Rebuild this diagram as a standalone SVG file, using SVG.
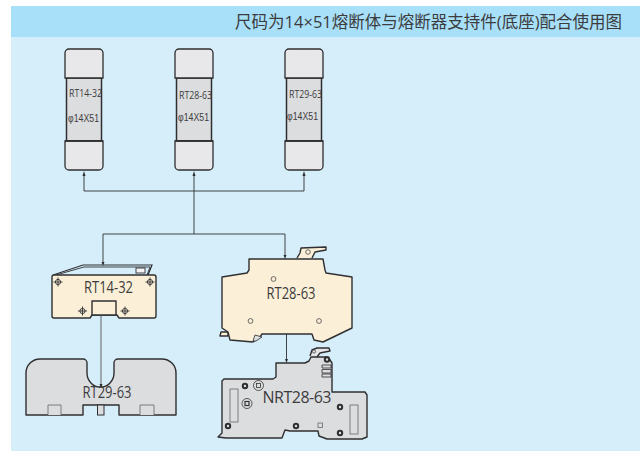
<svg xmlns="http://www.w3.org/2000/svg" width="642" height="451" viewBox="0 0 642 451">
<style>
.t{font-family:"Open Sans","Noto Sans CJK SC",sans-serif;fill:#3c3c3e}
.lb{font-size:16px;text-anchor:middle}
.sm{font-size:10px}
.ph{font-family:"Liberation Sans",sans-serif;font-size:10px;fill:#3c3c3e}
.cap{fill:#e8e8ea;stroke:#2f2f31;stroke-width:1.300}
.body{fill:#dcddde;stroke:#2f2f31;stroke-width:1.500}
.cream{fill:#fbf0d7;stroke:#2f2f31;stroke-width:1.400;stroke-linejoin:round}
.grey{fill:#dcddde;stroke:#2f2f31;stroke-width:1.400;stroke-linejoin:round}
.thin{fill:none;stroke:#2f2f31;stroke-width:.9}
.hole{fill:#fbf0d7;stroke:#4a4a4a;stroke-width:.8}
.dot{fill:#dcddde;stroke:#2f2f31;stroke-width:2}
.part{fill:#dcddde;stroke:#666;stroke-width:.8}
.wire{fill:none;stroke:#2f2f31;stroke-width:.9}
</style>
<defs>
<g id="cr"><circle r="2.600" fill="none" stroke="#2f2f31" stroke-width=".9"/><path d="M-4.500 0H4.500M0-4.500V4.500" stroke="#2f2f31" stroke-width=".9"/></g>
<g id="fuse">
<rect x="1.500" y="29" width="35" height="63" class="body"/>
<path d="M0 29V4a4 4 0 0 1 4-4H34a4 4 0 0 1 4 4V29Z" class="cap"/>
<path d="M0 92V117a4 4 0 0 0 4 4H34a4 4 0 0 0 4-4V92Z" class="cap"/>
<path d="M0 92H38" stroke="#2f2f31" stroke-width="1.600"/>
</g>
</defs>
<rect x="11" y="6" width="629" height="445" fill="#d6eefa"/>
<rect x="11" y="6" width="629" height="31" fill="#a9e0f9"/>
<text class="t" x="622" y="28" font-size="16.500" text-anchor="end">尺码为14×51熔断体与熔断器支持件(底座)配合使用图</text>
<g id="fuse-rt14-32">
<use href="#fuse" x="65" y="49"/>
<text class="t sm" x="69" y="97" textLength="33" lengthAdjust="spacingAndGlyphs">RT14-32</text>
<text class="ph" x="68" y="122" textLength="31" lengthAdjust="spacingAndGlyphs">φ14X51</text>
</g>
<g id="fuse-rt28-63">
<use href="#fuse" x="175" y="49"/>
<text class="t sm" x="179" y="99" textLength="33" lengthAdjust="spacingAndGlyphs">RT28-63</text>
<text class="ph" x="178" y="121" textLength="31" lengthAdjust="spacingAndGlyphs">φ14X51</text>
</g>
<g id="fuse-rt29-63">
<use href="#fuse" x="285" y="49"/>
<text class="t sm" x="289" y="98" textLength="33" lengthAdjust="spacingAndGlyphs">RT29-63</text>
<text class="ph" x="287" y="120" textLength="31" lengthAdjust="spacingAndGlyphs">φ14X51</text>
</g>
<g id="base-rt14-32">
<path d="M53 275L83 265H152L148 275" class="thin" style="stroke-width:1.200"/>
<path d="M56 275L84 267H150L147 275" class="thin"/>
<rect x="136" y="268" width="9" height="5" class="thin" style="fill:#f4f4f4"/>
<path d="M54 275H154a2 2 0 0 1 2 2V316a2 2 0 0 1-2 2H119L117 315H92L90 318H54a2 2 0 0 1-2-2V277a2 2 0 0 1 2-2Z" class="cream"/>
<rect x="92" y="301" width="24" height="14" class="cream"/>
<use href="#cr" x="58" y="282"/>
<use href="#cr" x="150" y="282"/>
<use href="#cr" x="82.500" y="311"/>
<use href="#cr" x="125" y="311"/>
<text class="t lb" x="108.500" y="293" textLength="49" lengthAdjust="spacingAndGlyphs">RT14-32</text>
</g>
<g id="base-rt29-63">
<path d="M26 415V373a14 14 0 0 1 14-14H83a4 4 0 0 1 4 4V373a13.500 14 0 0 0 27 0V363a4 4 0 0 1 4-4H162a14 14 0 0 1 14 14V415H119V405H83V415Z" class="grey"/>
<path d="M48 415V405H61V415M140 415V405H154V415" class="part"/>
<rect x="97.500" y="405" width="6.500" height="10" class="part" style="stroke:#2f2f31;stroke-width:1"/>
<text class="t lb" x="107" y="398" textLength="49" lengthAdjust="spacingAndGlyphs">RT29-63</text>
</g>
<g id="base-rt28-63">
<path d="M297 258L300 253 301 248 326 247V250L315 252 312 258" class="cream"/>
<circle cx="308" cy="252" r="2.300" class="hole"/>
<path d="M221 332H228V336H220Z" class="cream"/>
<path d="M249 259H323L325 270 326 273 352 277V328L323 342 314 340 312 334H262L260 337 256 340 253 342 230 340 228 332 222 328V277L247 273 249 270Z" class="cream"/>
<path d="M255 335L262 337 256 341 253 341Z" fill="#dcddde" stroke="#2f2f31" stroke-width=".8"/>
<circle cx="273.500" cy="279" r="2.400" class="hole"/>
<circle cx="250.500" cy="321" r="2.400" class="hole"/>
<circle cx="319" cy="321" r="2.400" class="hole"/>
<text class="t lb" x="291" y="299" textLength="49" lengthAdjust="spacingAndGlyphs">RT28-63</text>
</g>
<g id="base-nrt28-63">
<path d="M310 356L312 350 317 348H329L330 351 320 353 317 357" class="grey" style="fill:#e6e6e8"/>
<circle cx="314" cy="351.500" r="1.600" class="hole" style="fill:#dcddde"/>
<path d="M276 363H305L309 361 311 357H328L332 363V392H365L367 395V437L362 439H327L319 436 318 431H290L285 430 282 438H226L218 437 222 433V381L224 379H273L276 377Z" class="grey"/>
<path d="M322 365H331V368H322ZM322 369.500H331V373H322ZM322 374H331V377H322Z" class="part" style="stroke:#2f2f31"/>
<rect x="230" y="389" width="8" height="33" class="part"/>
<rect x="350" y="405" width="8" height="29" class="part"/>
<circle cx="245" cy="386" r="2.200" class="dot"/>
<circle cx="228" cy="426" r="2.200" class="dot"/>
<circle cx="296" cy="426" r="2.200" class="dot"/>
<circle cx="340" cy="407" r="2.200" class="dot"/>
<circle cx="340" cy="433" r="2.200" class="dot"/>
<circle cx="327" cy="359.500" r="2.200" class="dot"/>
<circle cx="258.500" cy="385.500" r="5" class="part" style="stroke:#333"/>
<rect x="256.500" y="383.500" width="4" height="4" class="part" style="stroke:#333"/>
<circle cx="247" cy="403.500" r="5" class="part" style="stroke:#333"/>
<rect x="245" y="401.500" width="4" height="4" class="part" style="stroke:#333;stroke-width:1.200"/>
<rect x="318" y="423" width="4.500" height="4.500" class="part"/>
<text class="t lb" x="297" y="403" textLength="69" lengthAdjust="spacing">NRT28-63</text>
</g>
<g id="connectors">
<path class="wire" d="M84 175V191H304V175"/>
<path class="wire" d="M194 234V175"/>
<path class="wire" d="M103 262V234H285V255"/>
<path class="wire" d="M101 315V384" style="stroke:#555"/>
<path class="wire" d="M286.500 334V360"/>
<path d="M84 171l-1.500 5h3ZM194 171l-1.500 5h3ZM304 171l-1.500 5h3ZM103 266l-1.500-4h3ZM285 259l-1.500-4h3ZM101 388l-1.500-4h3ZM286.500 363l-1.500-4h3Z" fill="#2f2f31"/>
</g>
</svg>
